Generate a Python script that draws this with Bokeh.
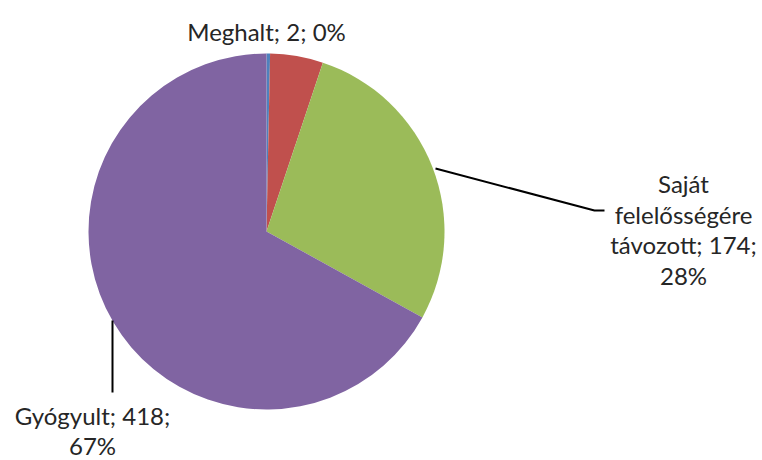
import math
from bokeh.plotting import figure
from bokeh.models import Range1d, ColumnDataSource
from bokeh.core.properties import value
from bokeh.embed import file_html
from bokeh.resources import INLINE

# data
categories = ["Meghalt", "Áthelyezve", "Saját felelősségére távozott", "Gyógyult"]
counts = [2, 30, 174, 418]
colors = ["#4F81BD", "#C0504D", "#9BBB59", "#8064A2"]
show_label = [True, False, True, True]
label_breaks = [
    "Meghalt; {v}; {p}%",
    "",
    "Saját\nfelelősségére\ntávozott; {v};\n{p}%",
    "Gyógyult; {v};\n{p}%",
]

W, H = 762, 460

def px(X, Y):
    return X, H - Y

total = sum(counts)
starts, ends = [], []
acc = 0
for c in counts:
    starts.append(math.pi / 2 - acc / total * 2 * math.pi)
    acc += c
    ends.append(math.pi / 2 - acc / total * 2 * math.pi)

cx, cy = px(266, 231)
R = 178

p = figure(width=W, height=H, output_backend="svg", toolbar_location=None,
           x_range=Range1d(0, W), y_range=Range1d(0, H), min_border=0)
p.axis.visible = False
p.grid.visible = False
p.outline_line_color = None
p.background_fill_color = "white"

src = ColumnDataSource(dict(start=starts, end=ends, color=colors, cat=categories))
p.wedge(x=cx, y=cy, radius=R, start_angle="start", end_angle="end", direction="clock",
        fill_color="color", line_color=None, source=src)

# leader lines
gx, gy = zip(*[px(435, 168), px(594, 210), px(604, 210)])
p.line(list(gx), list(gy), line_color="black", line_width=2)
vx, vy = zip(*[px(112, 320), px(112, 392)])
p.line(list(vx), list(vy), line_color="black", line_width=2)

label_pos = [px(266, 31), None, px(683, 229), px(92, 430)]
lx, ly, lt = [], [], []
for i, c in enumerate(counts):
    if not show_label[i]:
        continue
    pct = round(c / total * 100)
    lt.append(label_breaks[i].format(v=c, p=pct))
    lx.append(label_pos[i][0])
    ly.append(label_pos[i][1])

p.text(x=lx, y=ly, text=lt, text_font=value("Lato"), text_font_size="24px",
       text_color="#262626", text_align="center", text_baseline="middle",
       text_line_height=1.05)

open("out.html", "w").write(file_html(p, INLINE))
